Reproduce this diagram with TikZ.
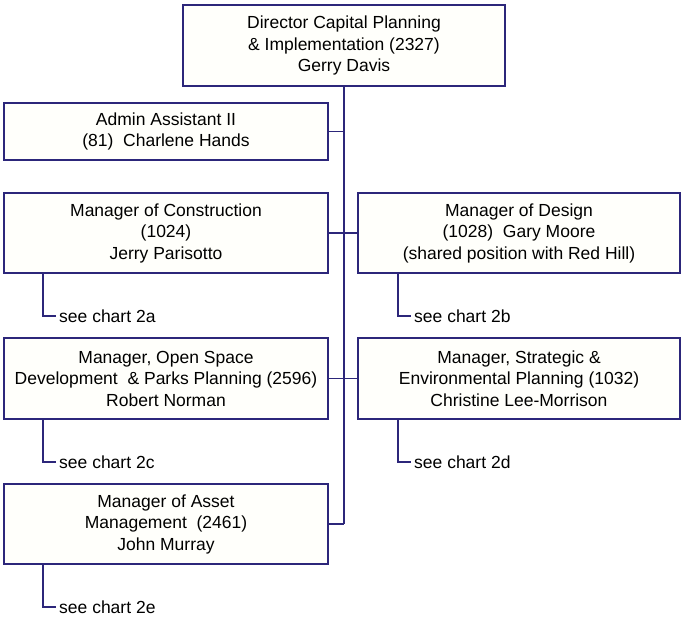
\documentclass[tikz,border=0pt]{standalone}
\usepackage{fontspec}
\setmainfont{Liberation Sans}
\usetikzlibrary{positioning}

\definecolor{orgline}{RGB}{44,38,122}
\definecolor{orgfill}{RGB}{255,255,251}

\begin{document}
\begin{tikzpicture}[
    x=1pt, y=-1pt,
    % box and connector styles
    post_box/.style={rectangle, draw=orgline, fill=orgfill, line width=1.3pt,
                     minimum width=324pt, minimum height=80pt, align=center,
                     inner sep=0pt, font=\fontsize{17.5}{21.5}\selectfont},
    head_box/.style={post_box, line width=1.9pt, minimum width=322pt, minimum height=81pt},
    org_link/.style={draw=orgline, line width=1.4pt},
    chart_ref/.style={anchor=west, inner sep=0pt, font=\fontsize{17.5}{21.5}\selectfont}
]
\useasboundingbox (0,0) rectangle (681,619);

% Top: director
\node[head_box] (director) at (344,45.5) {Director Capital Planning\\\& Implementation (2327)\\Gerry Davis};

% Row 1: admin assistant
\node[post_box, minimum height=57pt] (admin) at (166,131.5) {Admin Assistant II\\(81)\ \ Charlene Hands};

% Row 2: construction and design
\node[post_box] (constr) at (166,233) {Manager of Construction\\(1024)\\Jerry Parisotto};
\node[post_box, minimum width=322pt] (design) at (519,233) {Manager of Design\\(1028)\ \ Gary Moore\\(shared position with Red Hill)};

% Row 3: open space and strategic planning
\node[post_box, minimum height=81pt] (openspace) at (166,378.5) {Manager, Open Space\\Development\ \ \& Parks Planning (2596)\\Robert Norman};
\node[post_box, minimum width=322pt, minimum height=81pt] (strategic) at (519,378.5) {Manager, Strategic \&\\Environmental Planning (1032)\\Christine Lee-Morrison};

% Row 4: asset management
\node[post_box] (asset) at (166,524) {Manager of Asset\\Management\ \ (2461)\\John Murray};

% Trunk and branches
\coordinate (trunk_end) at (344,524);
\draw[org_link] (director.south) -- (trunk_end);
\draw[org_link] (admin.east) -- (admin.east -| director.south);
\draw[org_link] (constr.east) -- (design.west);
\draw[org_link] (openspace.east) -- (strategic.west);
\draw[org_link] (asset.east) -- (trunk_end);

% Chart references below each manager
\coordinate (ref_a) at (56,316);
\coordinate (ref_b) at (411,316);
\coordinate (ref_c) at (56,462);
\coordinate (ref_d) at (411,462);
\coordinate (ref_e) at (56,607);

\draw[org_link] (constr.south -| 43,0) |- (ref_a);
\draw[org_link] (design.south -| 398,0) |- (ref_b);
\draw[org_link] (openspace.south -| 43,0) |- (ref_c);
\draw[org_link] (strategic.south -| 398,0) |- (ref_d);
\draw[org_link] (asset.south -| 43,0) |- (ref_e);

\node[chart_ref, right=3pt of ref_a] (see_a) {see chart 2a};
\node[chart_ref, right=3pt of ref_b] (see_b) {see chart 2b};
\node[chart_ref, right=3pt of ref_c] (see_c) {see chart 2c};
\node[chart_ref, right=3pt of ref_d] (see_d) {see chart 2d};
\node[chart_ref, right=3pt of ref_e] (see_e) {see chart 2e};

\end{tikzpicture}
\end{document}
